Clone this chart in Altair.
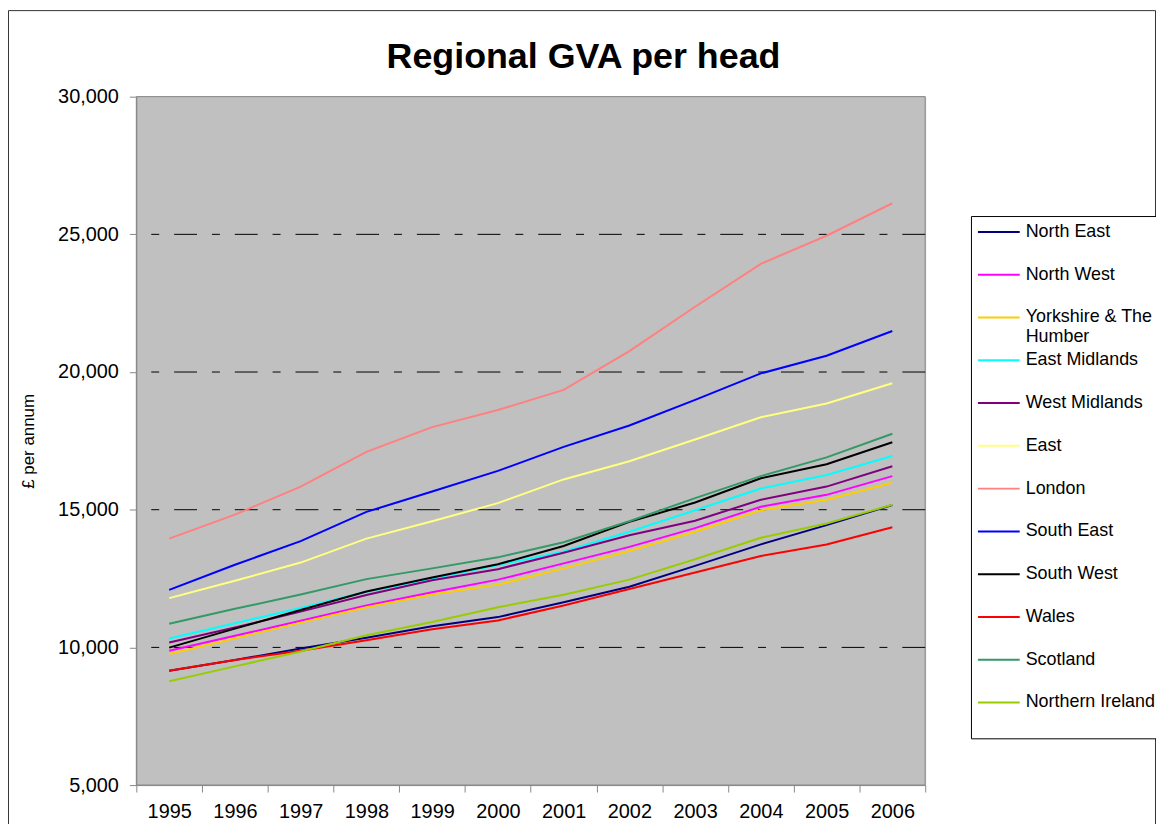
import altair as alt
import pandas as pd

years = ["1995", "1996", "1997", "1998", "1999", "2000", "2001", "2002", "2003", "2004", "2005", "2006"]

north_east = [9150, 9540, 9960, 10350, 10770, 11100, 11640, 12200, 12960, 13740, 14440, 15170]
north_west = [9880, 10420, 10970, 11520, 12000, 12460, 13050, 13650, 14330, 15110, 15540, 16220]
yorkshire = [9760, 10330, 10900, 11460, 11920, 12280, 12870, 13500, 14200, 14980, 15360, 15980]
east_midlands = [10320, 10880, 11430, 12020, 12500, 12990, 13480, 14200, 14980, 15770, 16260, 16950]
west_midlands = [10180, 10720, 11300, 11900, 12440, 12840, 13440, 14070, 14600, 15360, 15840, 16580]
east = [11790, 12420, 13080, 13950, 14580, 15240, 16100, 16760, 17550, 18360, 18860, 19590]
london = [13950, 14820, 15840, 17100, 18000, 18620, 19350, 20760, 22370, 23930, 24950, 26130]
south_east = [12090, 13000, 13860, 14920, 15660, 16410, 17280, 18060, 18990, 19950, 20590, 21490]
south_west = [9990, 10680, 11360, 12030, 12540, 13020, 13680, 14560, 15260, 16140, 16650, 17450]
wales = [9150, 9540, 9880, 10260, 10660, 10980, 11520, 12120, 12720, 13320, 13740, 14360]
scotland = [10860, 11400, 11920, 12480, 12870, 13270, 13820, 14580, 15420, 16220, 16900, 17760]
northern_ireland = [8770, 9310, 9850, 10440, 10920, 11460, 11910, 12460, 13200, 13980, 14500, 15180]

series = ["North East", "North West", "Yorkshire & The Humber", "East Midlands",
          "West Midlands", "East", "London", "South East", "South West", "Wales",
          "Scotland", "Northern Ireland"]
series_values = [north_east, north_west, yorkshire, east_midlands, west_midlands, east,
                 london, south_east, south_west, wales, scotland, northern_ireland]
colors = ["#000080", "#FF00FF", "#FFCC00", "#00FFFF", "#800080", "#FFFF80",
          "#FF8080", "#0000FF", "#000000", "#FF0000", "#339966", "#99CC00"]

y_ticks = [5000, 10000, 15000, 20000, 25000, 30000]
grid_values = [10000, 15000, 20000, 25000]
y_range = [5000, 30000]

rows = []
for name, vals in zip(series, series_values):
    for yr, v in zip(years, vals):
        rows.append({"Region": name, "Year": yr, "GVA": v})
df = pd.DataFrame(rows)

FONT = "Liberation Sans"

yenc = alt.Y(
    "GVA:Q",
    scale=alt.Scale(domain=y_range, nice=False, zero=False),
    axis=alt.Axis(values=y_ticks, format=",.0f", title="£ per annum", grid=False,
                  tickSize=7, labelPadding=11, labelFontSize=20, titleFontSize=17,
                  titleFontWeight="normal", titlePadding=20, zindex=1),
)

area_df = pd.DataFrame({"GVA": [y_range[0]], "GVA_hi": [y_range[1]]})

plot_bg = alt.Chart(area_df).mark_rect(color="#C0C0C0").encode(
    y=yenc, y2="GVA_hi:Q"
)
plot_border = alt.Chart(area_df).mark_rect(
    filled=False, stroke="#808080", strokeWidth=1
).encode(y=yenc, y2="GVA_hi:Q")

lines = alt.Chart(df).mark_line(strokeWidth=2).encode(
    x=alt.X("Year:O", sort=years, bandPosition=0.5,
            scale=alt.Scale(type="band", paddingInner=0, paddingOuter=0),
            axis=alt.Axis(title=None, labelAngle=0, tickBand="extent", tickSize=7,
                          labelPadding=10, labelFontSize=20, grid=False, zindex=1)),
    y=yenc,
    color=alt.Color(
        "Region:N",
        scale=alt.Scale(domain=series, range=colors),
        sort=series,
        legend=alt.Legend(
            title=None, orient="none", legendX=839, legendY=120,
            symbolType="M-2.625,0H2.625", symbolSize=256, symbolStrokeWidth=2,
            symbolOffset=12, labelOffset=18, labelFont=FONT, labelFontSize=18,
            labelColor="black", labelLimit=400, rowPadding=5, padding=7,
            strokeColor="black", fillColor="white",
            labelExpr="datum.label == 'Yorkshire & The Humber' ? ['Yorkshire & The', 'Humber'] : [datum.label, '']",
        ),
    ),
)

grid = alt.Chart(pd.DataFrame({"GVA": grid_values})).mark_rule(
    color="black", strokeWidth=1, strokeDash=[23, 15, 8, 15]
).encode(y=yenc)

frame = alt.Chart(pd.DataFrame({"a": [0]})).mark_rect(
    filled=False, stroke="#333333", strokeWidth=1
).encode(x=alt.value(-128.5), x2=alt.value(1024.5), y=alt.value(-86.5), y2=alt.value(760))

chart = alt.layer(plot_bg, plot_border, grid, lines, frame).properties(
    width=793,
    height=692,
    title=alt.TitleParams("Regional GVA per head", font=FONT, fontSize=36,
                          fontWeight="bold", color="black", anchor="middle",
                          dx=53, offset=-66),
    autosize=alt.AutoSizeParams(type="none"),
    padding={"left": 129, "top": 87, "right": 232, "bottom": 37},
).configure_view(
    fill="#C0C0C0", stroke="#808080"
).configure_axis(
    domainColor="black", tickColor="black", labelColor="black", titleColor="black",
    labelFont=FONT, titleFont=FONT
).configure(background="white")

chart.save("out.html", embed_options={"renderer": "svg", "actions": False})
